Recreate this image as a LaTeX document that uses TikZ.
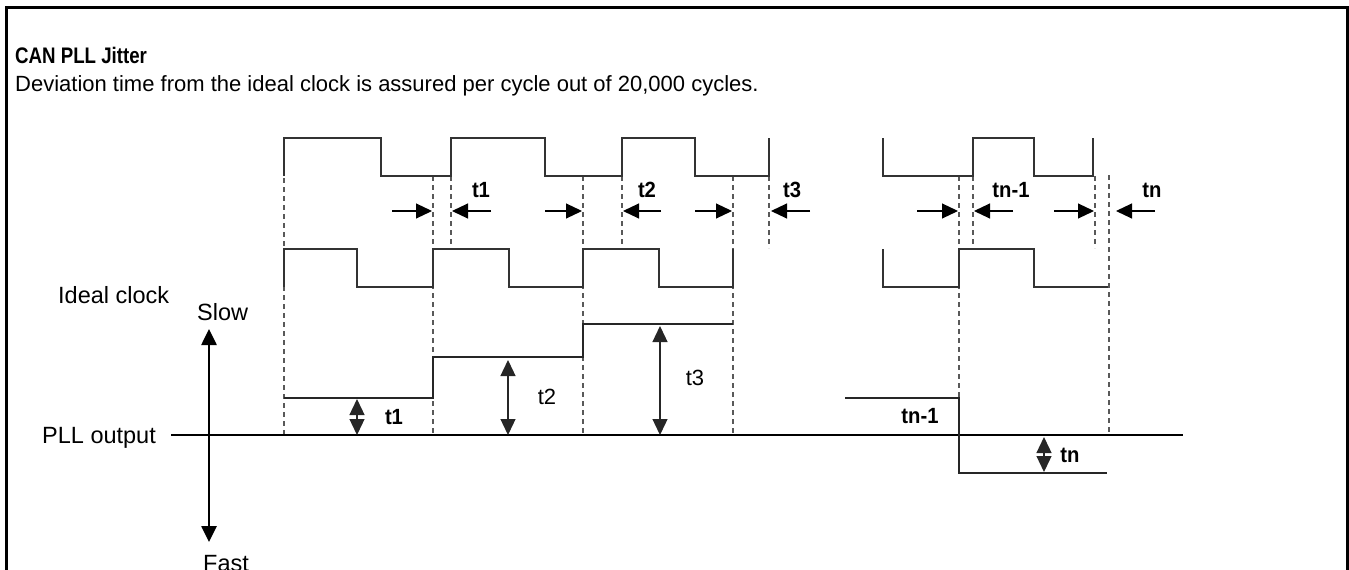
\documentclass[tikz,border=0pt]{standalone}
\usepackage{fontspec}
\setmainfont{Liberation Sans}
\newfontfamily\labelfont[FakeStretch=0.92]{Liberation Sans}
\usepackage{tikz}
\usetikzlibrary{arrows.meta}

\begin{document}
\begin{tikzpicture}[x=1pt,y=-1pt,line join=miter]
\tikzstyle{wave}=[draw=black!80,line width=1.4pt]
\tikzstyle{guide}=[draw=black!65,line width=1.1pt,dash pattern=on 5pt off 4pt]
\tikzstyle{level}=[draw=black!85,line width=1.4pt]
\tikzstyle{jit}=[draw=black,line width=1.1pt,-{Triangle[length=16pt,width=15pt]}]
\tikzstyle{dev}=[draw=black!85,line width=1.3pt,{Triangle[length=16pt,width=15pt]}-{Triangle[length=16pt,width=15pt]}]
\tikzstyle{txt}=[inner sep=0pt,anchor=base west,font=\fontsize{22}{26}\selectfont]
\tikzstyle{side}=[inner sep=0pt,anchor=base west,font=\fontsize{23.5}{28}\selectfont]
\tikzstyle{tlabel}=[inner sep=0pt,anchor=base,font=\fontsize{22}{26}\selectfont\labelfont\bfseries]
\useasboundingbox (0,0) rectangle (1349,570);
\draw[line width=3pt] (6,580) -- (6,7) -- (1347,7) -- (1347,580);
\node[txt,font=\fontsize{22.5}{27}\selectfont\bfseries] (title) at (15,63) {\scalebox{0.83}[1]{CAN PLL Jitter}};
\node[txt] (note) at (15,91) {Deviation time from the ideal clock is assured per cycle out of 20,000 cycles.};
\draw[guide] (284,178) -- (284,435);
\draw[guide] (433,176) -- (433,435);
\draw[guide] (451,176) -- (451,249);
\draw[guide] (583,176) -- (583,435);
\draw[guide] (622,176) -- (622,249);
\draw[guide] (733,176) -- (733,435);
\draw[guide] (769,176) -- (769,248);
\draw[guide] (959,176) -- (959,435);
\draw[guide] (973,176) -- (973,249);
\draw[guide] (1095,176) -- (1095,248);
\draw[guide] (1109,175) -- (1109,435);
\draw[wave] (284,176) -- (284,138) -- (381,138) -- (381,176) -- (451,176) -- (451,138) -- (545,138) -- (545,176) -- (622,176) -- (622,138) -- (695,138) -- (695,176) -- (769,176) -- (769,138);
\draw[wave] (883,138) -- (883,176) -- (973,176) -- (973,138) -- (1034,138) -- (1034,176) -- (1093,176) -- (1093,138);
\draw[wave] (284,287) -- (284,249) -- (357,249) -- (357,287) -- (433,287) -- (433,249) -- (509,249) -- (509,287) -- (583,287) -- (583,249) -- (659,249) -- (659,287) -- (733,287) -- (733,249);
\draw[wave] (883,249) -- (883,287) -- (959,287) -- (959,249) -- (1034,249) -- (1034,287) -- (1108,287);
\draw[jit] (392,211) -- (432,211);
\draw[jit] (491,211) -- (452,211);
\draw[jit] (545,211) -- (582,211);
\draw[jit] (661,211) -- (623,211);
\draw[jit] (695,211) -- (732,211);
\draw[jit] (810,211) -- (771,211);
\draw[jit] (917,211) -- (958,211);
\draw[jit] (1013,211) -- (974,211);
\draw[jit] (1054,211) -- (1094,211);
\draw[jit] (1155,211) -- (1116,211);
\node[tlabel] (u1) at (481,197) {t1};
\node[tlabel] (u2) at (647,197) {t2};
\node[tlabel] (u3) at (792,197) {t3};
\node[tlabel] (un1) at (1011,197) {tn-1};
\node[tlabel] (un) at (1152,197) {tn};
\draw[line width=1.3pt] (171,435) -- (1183,435);
\draw[level] (284,398) -- (433,398) -- (433,357) -- (583,357) -- (583,324) -- (733,324);
\draw[level] (845,398) -- (959,398) -- (959,473) -- (1107,473);
\draw[dev] (357,399) -- (357,435);
\draw[dev] (508,360) -- (508,435);
\draw[dev] (660,326) -- (660,435);
\draw[dev] (1044,437) -- (1044,472);
\node[tlabel] (l1) at (394,424) {t1};
\node[tlabel,font=\fontsize{22}{26}\selectfont] (l2) at (547,404) {t2};
\node[tlabel,font=\fontsize{22}{26}\selectfont] (l3) at (695,385) {t3};
\node[tlabel] (ln1) at (920,423) {tn-1};
\node[tlabel] (ln) at (1070,462) {tn};
\node[side] (ideal) at (58,303) {Ideal clock};
\node[side] (pll) at (42,443) {PLL output};
\node[side] (slow) at (197,320) {Slow};
\node[side] (fast) at (203,571) {Fast};
\draw[line width=2.6pt,{Triangle[length=16pt,width=15pt]}-{Triangle[length=16pt,width=15pt]}] (209,329) -- (209,542);
\end{tikzpicture}
\end{document}
